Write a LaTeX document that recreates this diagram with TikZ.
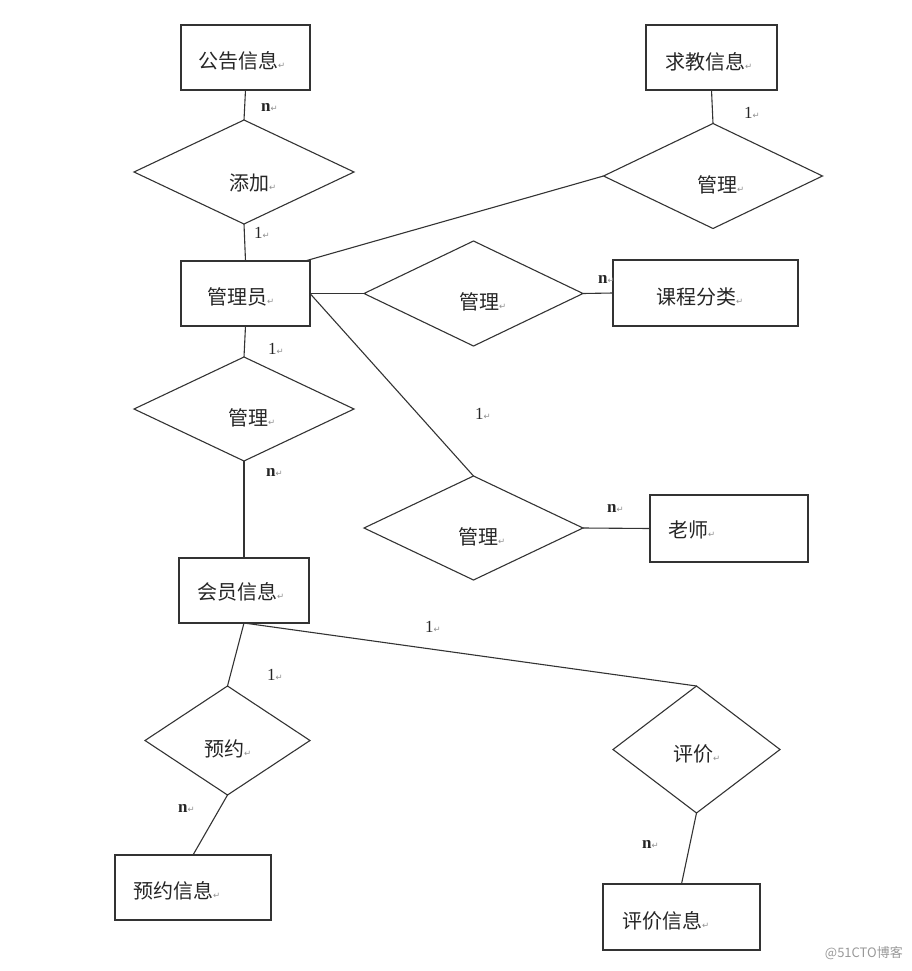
\documentclass[tikz,border=0pt]{standalone}
\usepackage{fontspec}
\usetikzlibrary{shapes.geometric}
\newfontfamily\cjk{Noto Sans CJK SC}
\newfontfamily\numfont{Liberation Serif}
\newfontfamily\symfont{DejaVu Sans}
\definecolor{ln}{HTML}{333333}
\definecolor{rtgray}{HTML}{909090}
\newcommand\retmark{{\symfont\fontsize{8.5}{8.5}\selectfont\color{rtgray}↵}}
\newcommand\cjktxt[1]{{\cjk\fontsize{20}{20}\selectfont #1}\retmark}
\newcommand\numtxt[1]{{\numfont\fontsize{17}{17}\selectfont #1}\retmark}
\tikzset{
  ent/.style={draw=ln, line width=1.1pt, inner sep=0pt, outer sep=0pt, rectangle},
  rel/.style={draw=ln, line width=1.1pt, inner sep=0pt, outer sep=0pt, diamond},
  conn/.style={draw=ln, line width=1.1pt},
  txt/.style={anchor=west, inner sep=0pt, text=black!85},
  card/.style={anchor=base west, inner sep=0pt, text=black!85},
}
\begin{document}
\begin{tikzpicture}[x=1pt,y=-1pt]
\useasboundingbox (0,0) rectangle (911,971);
% entities
\node[ent, minimum width=129pt, minimum height=65pt] (gg)   at (245.5,57.5) {};
\node[ent, minimum width=131pt, minimum height=65pt] (qj)   at (711.5,57.5) {};
\node[ent, minimum width=129pt, minimum height=65pt] (admin) at (245.5,293.5) {};
\node[ent, minimum width=185pt, minimum height=66pt] (kc)   at (705.5,293) {};
\node[ent, minimum width=158pt, minimum height=67pt] (ls)   at (729,528.5) {};
\node[ent, minimum width=130pt, minimum height=65pt] (hy)   at (244,590.5) {};
\node[ent, minimum width=156pt, minimum height=65pt] (yyx)  at (193,887.5) {};
\node[ent, minimum width=157pt, minimum height=66pt] (pjx)  at (681.5,917) {};
% relationships
\node[rel, minimum width=220pt, minimum height=104pt] (tj)  at (244,172) {};
\node[rel, minimum width=219pt, minimum height=105pt] (gl1) at (713,176) {};
\node[rel, minimum width=219pt, minimum height=105pt] (gl2) at (473.5,293.5) {};
\node[rel, minimum width=220pt, minimum height=104pt] (gl3) at (244,409) {};
\node[rel, minimum width=219pt, minimum height=104pt] (gl4) at (473.5,528) {};
\node[rel, minimum width=165pt, minimum height=109pt] (yy)  at (227.5,740.5) {};
\node[rel, minimum width=167pt, minimum height=127pt] (pj)  at (696.5,749.5) {};
% connectors
\draw[conn] (gg.south) -- (tj.north);
\draw[conn] (tj.south) -- (admin.north);
\draw[conn] ([xshift=-5pt]admin.north east) -- (gl1.west);
\draw[conn] (qj.south) -- (gl1.north);
\draw[conn] (admin.east) -- (gl2.west);
\draw[conn] (gl2.east) -- (kc.west);
\draw[conn] (admin.east) -- (gl4.north);
\draw[conn] (gl4.east) -- (ls.west);
\draw[conn] (admin.south) -- (gl3.north);
\draw[conn] (gl3.south) -- (hy.north);
\draw[conn] (hy.south) -- (yy.north);
\draw[conn] (hy.south) -- (pj.north);
\draw[conn] (yy.south) -- (yyx.north);
\draw[conn] (pj.south) -- (pjx.north);
% entity texts
\node[txt] (tgg)   at (198,61)  {\cjktxt{公告信息}};
\node[txt] (tqj)   at (665,62)  {\cjktxt{求教信息}};
\node[txt] (tadm)  at (207,297) {\cjktxt{管理员}};
\node[txt] (tkc)   at (656,297) {\cjktxt{课程分类}};
\node[txt] (tls)   at (668,530) {\cjktxt{老师}};
\node[txt] (thy)   at (197,592) {\cjktxt{会员信息}};
\node[txt] (tyyx)  at (133,891) {\cjktxt{预约信息}};
\node[txt] (tpjx)  at (622,921) {\cjktxt{评价信息}};
% relationship texts
\node[txt] (ttj)   at (229,183) {\cjktxt{添加}};
\node[txt] (tgl1)  at (697,185) {\cjktxt{管理}};
\node[txt] (tgl2)  at (459,302) {\cjktxt{管理}};
\node[txt] (tgl3)  at (228,418) {\cjktxt{管理}};
\node[txt] (tgl4)  at (458,537) {\cjktxt{管理}};
\node[txt] (tyy)   at (204,749) {\cjktxt{预约}};
\node[txt] (tpj)   at (673,754) {\cjktxt{评价}};
% cardinalities
\node[card] (c1)  at (261,112) {\numtxt{\bfseries n}};
\node[card] (c2)  at (254,238) {\numtxt{1}};
\node[card] (c3)  at (744,119) {\numtxt{1}};
\node[card] (c4)  at (598,283) {\numtxt{\bfseries n}};
\node[card] (c5)  at (268,354) {\numtxt{1}};
\node[card] (c6)  at (475,419) {\numtxt{1}};
\node[card] (c7)  at (266,476) {\numtxt{\bfseries n}};
\node[card] (c8)  at (607,512) {\numtxt{\bfseries n}};
\node[card] (c9)  at (425,632) {\numtxt{1}};
\node[card] (c10) at (267,680) {\numtxt{1}};
\node[card] (c11) at (178,812) {\numtxt{\bfseries n}};
\node[card] (c12) at (642,848) {\numtxt{\bfseries n}};
% watermark
\node[anchor=east, inner sep=0pt, text=black!40] (wm) at (903,953) {\cjk\fontsize{13}{13}\selectfont @51CTO博客};
\end{tikzpicture}
\end{document}
